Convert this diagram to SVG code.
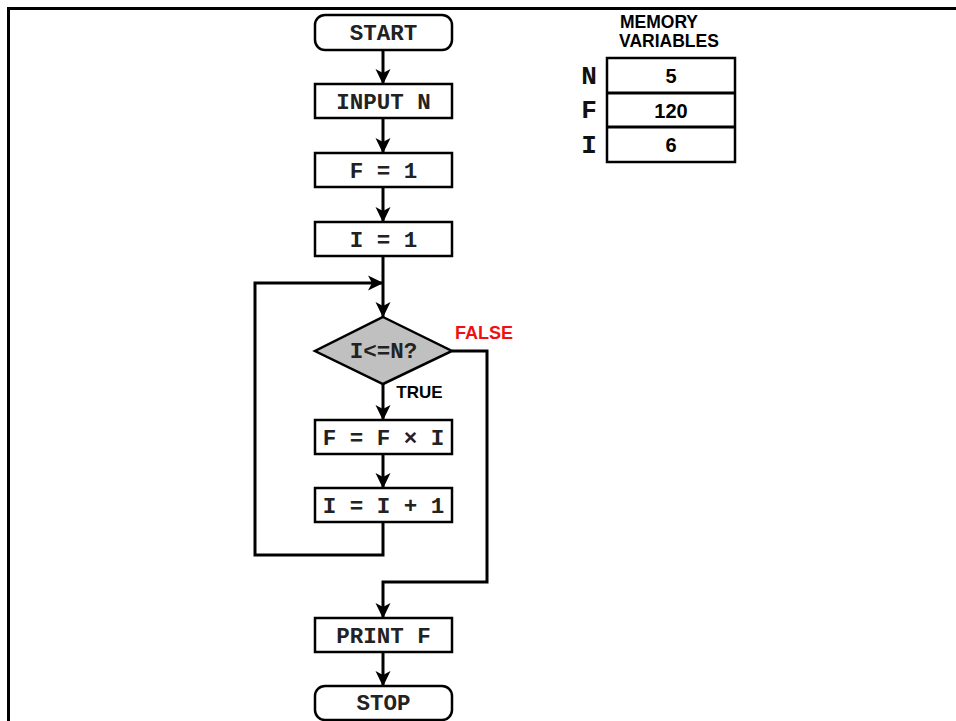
<svg xmlns="http://www.w3.org/2000/svg" width="956" height="721" viewBox="0 0 956 721">
<defs>
<style>
.box{fill:#fff;stroke:#000;stroke-width:2.5}
.dia{fill:#c0c0c0;stroke:#000;stroke-width:2.5}
.ln{fill:none;stroke:#000;stroke-width:3}
.t{font-family:"Liberation Mono","Courier New",monospace;font-weight:bold;font-size:22.5px;fill:#222;text-anchor:middle}
.v{font-family:"Liberation Mono","Courier New",monospace;font-weight:bold;font-size:26px;fill:#111;text-anchor:middle}
.s{font-family:"Liberation Sans",Arial,sans-serif;font-weight:bold;fill:#000;text-anchor:middle}
</style>
<marker id="ah" viewBox="0 0 16 16" refX="15" refY="8" markerWidth="16" markerHeight="16" markerUnits="userSpaceOnUse" orient="auto">
<path d="M0,0.5 L15.5,8 L0,15.5 L4,8 Z" fill="#000"/>
</marker>
</defs>
<rect width="956" height="721" fill="#fff"/>
<path d="M8.5,721 V8.5 H956" fill="none" stroke="#000" stroke-width="3"/>

<g id="connectors">
<line class="ln" x1="383" y1="50" x2="383" y2="84" marker-end="url(#ah)"/>
<line class="ln" x1="383" y1="118" x2="383" y2="153" marker-end="url(#ah)"/>
<line class="ln" x1="383" y1="187" x2="383" y2="222" marker-end="url(#ah)"/>
<line class="ln" x1="383" y1="256" x2="383" y2="317" marker-end="url(#ah)"/>
<line class="ln" x1="383" y1="384" x2="383" y2="420" marker-end="url(#ah)"/>
<line class="ln" x1="383" y1="454" x2="383" y2="488" marker-end="url(#ah)"/>
<polyline class="ln" points="383,522 383,555 255,555 255,283 383,283" marker-end="url(#ah)"/>
<polyline class="ln" points="452,351 487,351 487,582 383,582 383,618" marker-end="url(#ah)"/>
<line class="ln" x1="383" y1="652" x2="383" y2="686" marker-end="url(#ah)"/>
<text class="s" x="484" y="339" style="font-size:18px;fill:#ee1111">FALSE</text>
<text class="s" x="419.5" y="398" style="font-size:17px">TRUE</text>
</g>

<g id="start"><rect class="box" x="315" y="15" width="137" height="35" rx="10"/><text class="t" x="383.5" y="40">START</text></g>
<g id="input"><rect class="box" x="315" y="84" width="137" height="34"/><text class="t" x="383.5" y="109">INPUT N</text></g>
<g id="f1"><rect class="box" x="315" y="153" width="137" height="34"/><text class="t" x="383.5" y="178">F = 1</text></g>
<g id="i1"><rect class="box" x="315" y="222" width="137" height="34"/><text class="t" x="383.5" y="247">I = 1</text></g>
<g id="cond"><polygon class="dia" points="383,317 452,351 383,384 315,351"/><text class="t" x="383.5" y="358">I&lt;=N?</text></g>
<g id="fmul"><rect class="box" x="315" y="420" width="137" height="34"/><text class="t" x="383.5" y="445">F = F × I</text></g>
<g id="iinc"><rect class="box" x="315" y="488" width="137" height="34"/><text class="t" x="383.5" y="513">I = I + 1</text></g>
<g id="print"><rect class="box" x="315" y="618" width="137" height="34"/><text class="t" x="383.5" y="643">PRINT F</text></g>
<g id="stop"><rect class="box" x="315" y="686" width="137" height="34" rx="10"/><text class="t" x="383.5" y="710">STOP</text></g>

<g id="memory">
<text class="s" x="659" y="28" style="font-size:17.5px">MEMORY</text>
<text class="s" x="669" y="47" style="font-size:17.5px">VARIABLES</text>
<rect class="box" x="607" y="58" width="128" height="104"/>
<line class="ln" x1="607" y1="93" x2="735" y2="93" stroke-width="2.5"/>
<line class="ln" x1="607" y1="127" x2="735" y2="127" stroke-width="2.5"/>
<text class="v" x="589" y="84">N</text>
<text class="v" x="589" y="118">F</text>
<text class="v" x="589" y="153">I</text>
<text class="s" x="671" y="83" style="font-size:20px">5</text>
<text class="s" x="671" y="118" style="font-size:20px">120</text>
<text class="s" x="671" y="152" style="font-size:20px">6</text>
</g>
</svg>
